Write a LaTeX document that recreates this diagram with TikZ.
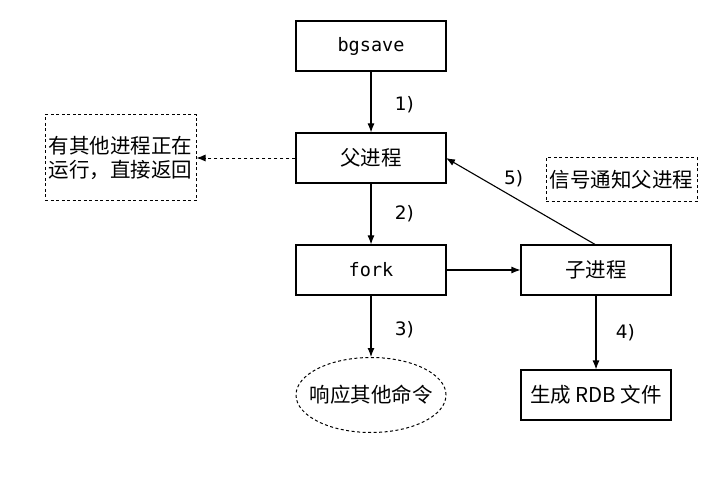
\documentclass[tikz,border=0pt]{standalone}
\usepackage{fontspec}
\setmainfont{DejaVu Sans}
\newfontfamily\cjk{Noto Sans CJK SC}
\newfontfamily\monof{DejaVu Sans Mono}
\usetikzlibrary{shapes.geometric,arrows.meta}
\begin{document}
\begin{tikzpicture}[x=1pt,y=-1pt,
  box/.style={draw,line width=1.1pt,minimum width=150pt,minimum height=50pt,inner sep=0pt},
  dbox/.style={draw,dash pattern=on 3pt off 2.5pt,line width=1pt,inner sep=0pt},
  cjktext/.style={font=\cjk\fontsize{20.5}{24}\selectfont},
  monotext/.style={font=\monof\fontsize{18.5}{20}\selectfont},
  lab/.style={font=\fontsize{18.5}{21}\selectfont},
  arr/.style={line width=1.1pt,-{Latex[length=9pt,width=7pt]}}]
\useasboundingbox (0,0) rectangle (712,478);
\node[box,monotext] (bg) at (371,46) {bgsave};
\node[box,cjktext] (fu) at (371,158) {父进程};
\node[box,monotext] (fork) at (371,270) {fork};
\node[box,cjktext] (zi) at (596,270) {子进程};
\node[box,cjktext] (rdb) at (596,395) {生成 RDB 文件};
\node[dbox,ellipse,minimum width=150pt,minimum height=75pt] (resp) at (371,395) {};
\node[cjktext,inner sep=0pt] (resplabel) at (resp.center) {响应其他命令};
\node[dbox,cjktext,minimum width=151pt,minimum height=86pt,align=left] (other) at (120.5,158) {有其他进程正在\\运行，直接返回};
\node[dbox,cjktext,minimum width=151pt,minimum height=44pt] (sig) at (621.5,180) {信号通知父进程};
\draw[arr] (bg) -- node[lab,right=20pt,pos=0.55]{1)} (fu);
\draw[arr] (fu) -- node[lab,right=20pt,pos=0.5]{2)} (fork);
\draw[arr] (fork) -- node[lab,right=20pt,pos=0.55]{3)} (resp);
\draw[arr] (zi) -- node[lab,right=16pt,pos=0.5]{4)} (rdb);
\draw[arr] (fork) -- (zi);
\draw[arr,dash pattern=on 3pt off 3pt,line width=0.9pt] (fu) -- (other);
\coordinate (zitop) at (596,245);
\coordinate (furight) at (446,158);
\draw[arr] (zitop) -- node[lab,pos=0.55,above=6pt]{5)} (furight);
\end{tikzpicture}
\end{document}
